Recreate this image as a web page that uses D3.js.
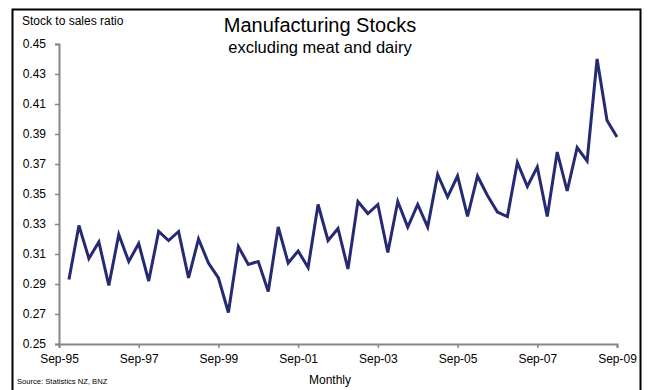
<!DOCTYPE html>
<html>
<head>
<meta charset="utf-8">
<script src="https://cdn.jsdelivr.net/npm/d3@7"></script>
<style>
  body { margin: 0; background: #fff; }
  svg text { font-family: "Liberation Sans", Arial, sans-serif; fill: #000; }
</style>
</head>
<body>
<div id="chart"></div>
<script>
// quarter ends, Dec-95 .. Sep-09
var quarters = ["Dec-95","Mar-96","Jun-96","Sep-96","Dec-96","Mar-97","Jun-97","Sep-97",
  "Dec-97","Mar-98","Jun-98","Sep-98","Dec-98","Mar-99","Jun-99","Sep-99",
  "Dec-99","Mar-00","Jun-00","Sep-00","Dec-00","Mar-01","Jun-01","Sep-01",
  "Dec-01","Mar-02","Jun-02","Sep-02","Dec-02","Mar-03","Jun-03","Sep-03",
  "Dec-03","Mar-04","Jun-04","Sep-04","Dec-04","Mar-05","Jun-05","Sep-05",
  "Dec-05","Mar-06","Jun-06","Sep-06","Dec-06","Mar-07","Jun-07","Sep-07",
  "Dec-07","Mar-08","Jun-08","Sep-08","Dec-08","Mar-09","Jun-09","Sep-09"];

var stockRatio = [0.293,0.329,0.307,0.318,0.289,0.323,0.305,0.317,
  0.292,0.325,0.319,0.325,0.294,0.320,0.304,0.294,
  0.271,0.315,0.303,0.305,0.285,0.328,0.304,0.312,
  0.301,0.343,0.319,0.327,0.300,0.345,0.337,0.343,
  0.311,0.345,0.328,0.343,0.328,0.363,0.348,0.362,
  0.335,0.362,0.349,0.338,0.335,0.371,0.355,0.368,
  0.335,0.378,0.352,0.381,0.372,0.440,0.399,0.388];

var xTickLabels = ["Sep-95","Sep-97","Sep-99","Sep-01","Sep-03","Sep-05","Sep-07","Sep-09"];
var yTicks = [0.25,0.27,0.29,0.31,0.33,0.35,0.37,0.39,0.41,0.43,0.45];

var W = 649, H = 390;
var margin = {top: 44, right: 31, bottom: 46, left: 59},
    width = W - margin.left - margin.right,
    height = H - margin.top - margin.bottom;

var monthNames = {Mar: 0, Jun: 3, Sep: 6, Dec: 9};
// months since Sep-95
function monthIndex(lbl) {
  var p = lbl.split("-");
  var yr = +p[1]; yr = yr < 50 ? 2000 + yr : 1900 + yr;
  return (yr - 1995) * 12 + monthNames[p[0]] - 6;
}

var data = quarters.map(function(q, i) { return {m: monthIndex(q), v: stockRatio[i]}; });

var x = d3.scaleLinear().domain([0, 168]).range([0, width - 1]);
var y = d3.scaleLinear().domain([0.25, 0.45]).range([height, 0]);

var svg = d3.select("#chart").append("svg")
    .attr("width", W).attr("height", H);

// frame
svg.append("rect")
    .attr("x", 12.5).attr("y", 9.5)
    .attr("width", 628).attr("height", 400)
    .attr("fill", "none").attr("stroke", "#000").attr("stroke-width", 2);

var g = svg.append("g")
    .attr("transform", "translate(" + margin.left + "," + margin.top + ")");

// y axis
var yAxis = g.append("g")
    .call(d3.axisLeft(y).tickValues(yTicks).tickFormat(d3.format(".2f")).tickSizeOuter(0).tickSize(4).tickPadding(9));
// x axis
var xAxis = g.append("g")
    .attr("transform", "translate(0," + height + ")")
    .call(d3.axisBottom(x).tickValues(xTickLabels.map(monthIndex))
      .tickFormat(function(d, i) { return xTickLabels[i]; })
      .tickSizeOuter(0).tickSize(4).tickPadding(6));

[yAxis, xAxis].forEach(function(a) {
  a.select(".domain").attr("stroke", "#868686").attr("stroke-width", 2);
  a.selectAll(".tick line").attr("stroke", "#868686").attr("stroke-width", 1.5);
  a.selectAll("text").style("font-size", "12px").attr("fill", "#000");
});

// the line
g.append("path")
    .datum(data)
    .attr("fill", "none")
    .attr("stroke", "#262a72")
    .attr("stroke-width", 3)
    .attr("stroke-linejoin", "miter")
    .attr("d", d3.line()
      .x(function(d) { return x(d.m); })
      .y(function(d) { return y(d.v); }));

// texts
svg.append("text").attr("x", 22).attr("y", 25)
    .style("font-size", "12px")
    .text("Stock to sales ratio");
svg.append("text").attr("x", 320).attr("y", 32).attr("text-anchor", "middle")
    .style("font-size", "20px")
    .text("Manufacturing Stocks");
svg.append("text").attr("x", 320).attr("y", 53).attr("text-anchor", "middle")
    .style("font-size", "16.5px")
    .text("excluding meat and dairy");
svg.append("text").attr("x", 330).attr("y", 384).attr("text-anchor", "middle")
    .style("font-size", "12px")
    .text("Monthly");
svg.append("text").attr("x", 17).attr("y", 384)
    .style("font-size", "7.6px")
    .text("Source: Statistics NZ, BNZ");
</script>
</body>
</html>
